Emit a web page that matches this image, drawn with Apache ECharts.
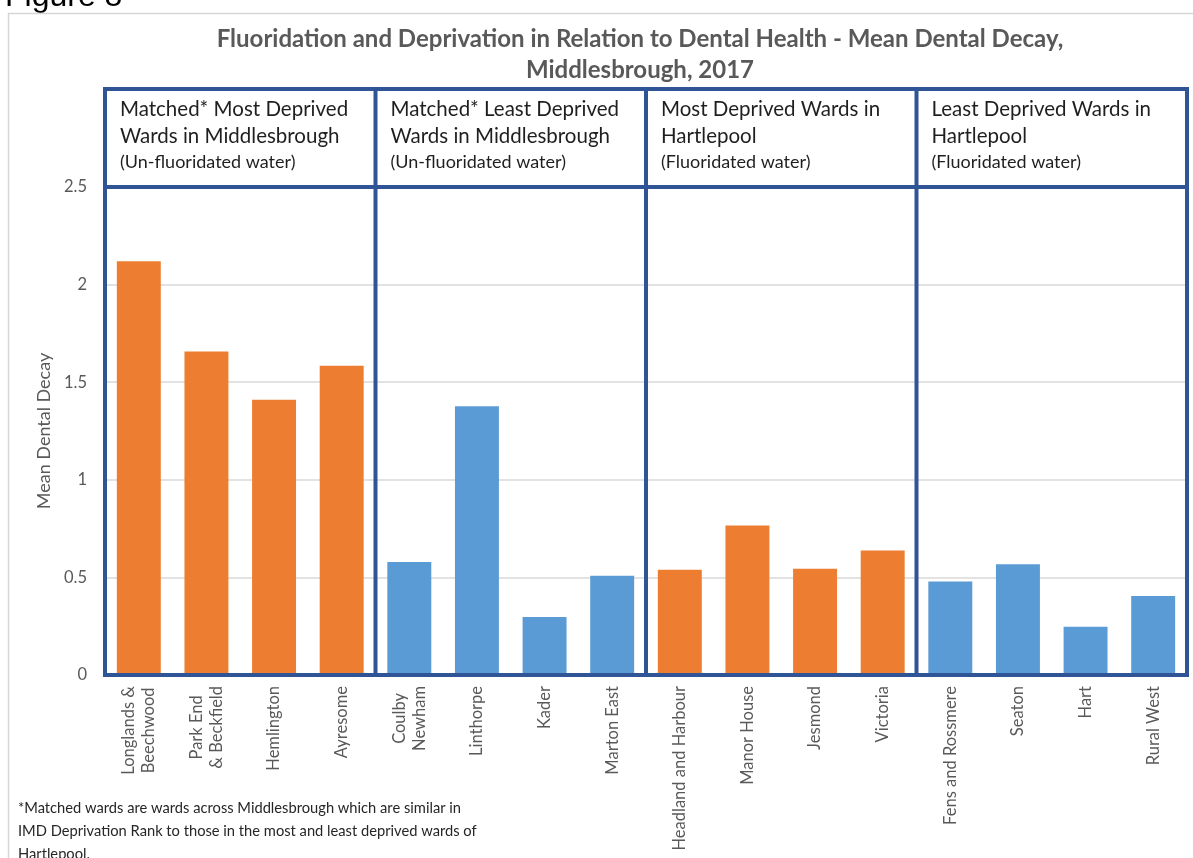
<!DOCTYPE html>
<html>
<head>
<meta charset="utf-8">
<script src="https://cdn.jsdelivr.net/npm/echarts@6/dist/echarts.min.js"></script>
<style>html,body{margin:0;padding:0;background:#fff;}#c{width:1193px;height:858px;}</style>
</head>
<body>
<div id="c"></div>
<script>
var categories = ['Longlands &\nBeechwood', 'Park End\n& Beckfield', 'Hemlington', 'Ayresome',
  'Coulby\nNewham', 'Linthorpe', 'Kader', 'Marton East',
  'Headland and Harbour', 'Manor House', 'Jesmond', 'Victoria',
  'Fens and Rossmere', 'Seaton', 'Hart', 'Rural West'];
var values = [2.12, 1.657, 1.41, 1.584, 0.579, 1.377, 0.297, 0.508, 0.539, 0.766, 0.544, 0.638, 0.479, 0.568, 0.247, 0.405];
var groupOf = [0,0,0,0, 1,1,1,1, 2,2,2,2, 3,3,3,3];
var groupColors = ['#ED7D31', '#5B9BD5', '#ED7D31', '#5B9BD5'];
var groupTitles = [
  ['Matched* Most Deprived', 'Wards in Middlesbrough'],
  ['Matched* Least Deprived', 'Wards in Middlesbrough'],
  ['Most Deprived Wards in', 'Hartlepool'],
  ['Least Deprived Wards in', 'Hartlepool']
];
var groupNotes = ['(Un-fluoridated water)', '(Un-fluoridated water)', '(Fluoridated water)', '(Fluoridated water)'];
var groupBounds = [0, 4, 8, 12, 16];
var titleLines = ['Fluoridation and Deprivation in Relation to Dental Health - Mean Dental Decay,', 'Middlesbrough, 2017'];
var yAxisName = 'Mean Dental Decay';
var yMin = 0, yMax = 2.5, yInterval = 0.5;
var footnote = ['*Matched wards are wards across Middlesbrough which are similar in',
  'IMD Deprivation Rank to those in the most and least deprived wards of',
  'Hartlepool.'];
var figureLabel = 'Figure 8';

var FONT = 'Lato, "Open Sans", sans-serif';
var chart = echarts.init(document.getElementById('c'), null, {renderer: 'canvas'});

var option = {
  animation: false,
  backgroundColor: '#ffffff',
  grid: {left: 105, right: 6, top: 187, bottom: 183, containLabel: false},
  xAxis: {
    type: 'category',
    data: categories,
    axisLine: {show: false},
    axisTick: {show: false},
    axisLabel: {
      interval: 0, rotate: 90, margin: 11,
      color: '#595959', fontFamily: FONT, fontSize: 16.5,
      formatter: function (v) { return v.split('\n').map(function (s) { return '{c|' + s + '}'; }).join('\n'); },
      rich: {c: {align: 'center', color: '#595959', fontFamily: FONT, fontSize: 16.5, lineHeight: 20}}
    }
  },
  yAxis: {
    type: 'value', min: yMin, max: yMax, interval: yInterval,
    name: yAxisName, nameLocation: 'middle', nameGap: 47, nameRotate: 90,
    nameTextStyle: {color: '#595959', fontFamily: FONT, fontSize: 18},
    axisLine: {show: false}, axisTick: {show: false},
    axisLabel: {color: '#595959', fontFamily: FONT, fontSize: 16.5, margin: 18},
    splitLine: {lineStyle: {color: '#d9d9d9', width: 1.5}}
  },
  series: [{
    type: 'bar',
    barWidth: '65%',
    data: values.map(function (v, i) {
      return {value: v, itemStyle: {color: groupColors[groupOf[i]]}};
    })
  }]
};
chart.setOption(option);

function px(cat) { return chart.convertToPixel({xAxisIndex: 0}, cat); }
function py(v) { return chart.convertToPixel({yAxisIndex: 0}, v); }

var band = px(1) - px(0);
var yTop = py(yMax), yZero = py(yMin);
var headTop = yTop - 98;
var BLUE = '#2F5597';
var g = [];

g.push({type: 'rect', shape: {x: 8.5, y: 13.5, width: 1300, height: 1000}, style: {fill: 'none', stroke: '#d6d6d6', lineWidth: 1.5}, z: 1});
g.push({type: 'text', x: 5, y: -3, style: {text: figureLabel, font: '32px "Liberation Sans", Arial, sans-serif', fill: '#000', verticalAlign: 'middle'}});
titleLines.forEach(function (t, i) {
  g.push({type: 'text', x: 640, y: 39 + i * 31, style: {text: t, font: 'bold 24px ' + FONT, fill: '#595959', align: 'center', verticalAlign: 'middle'}});
});
var xs = groupBounds.map(function (b) { return px(0) - band / 2 + b * band; });
[headTop, yTop, yZero].forEach(function (y) {
  g.push({type: 'line', shape: {x1: xs[0] - 2, y1: y, x2: xs[4] + 2, y2: y}, style: {stroke: BLUE, lineWidth: 4}, z: 10});
});
xs.forEach(function (x) {
  g.push({type: 'line', shape: {x1: x, y1: headTop, x2: x, y2: yZero}, style: {stroke: BLUE, lineWidth: 4}, z: 10});
});
for (var k = 0; k < 4; k++) {
  var tx = xs[k] + 15;
  g.push({type: 'text', x: tx, y: headTop + 20, style: {text: groupTitles[k][0], font: '20.5px ' + FONT, fill: '#1f1f1f', verticalAlign: 'middle'}});
  g.push({type: 'text', x: tx, y: headTop + 47, style: {text: groupTitles[k][1], font: '20.5px ' + FONT, fill: '#1f1f1f', verticalAlign: 'middle'}});
  g.push({type: 'text', x: tx, y: headTop + 73, style: {text: groupNotes[k], font: '18px ' + FONT, fill: '#1f1f1f', verticalAlign: 'middle'}});
}
footnote.forEach(function (t, i) {
  g.push({type: 'text', x: 18, y: 808 + i * 23, style: {text: t, font: '14.7px ' + FONT, fill: '#262626', verticalAlign: 'middle'}});
});
chart.setOption({graphic: {elements: g}});
</script>
</body>
</html>
